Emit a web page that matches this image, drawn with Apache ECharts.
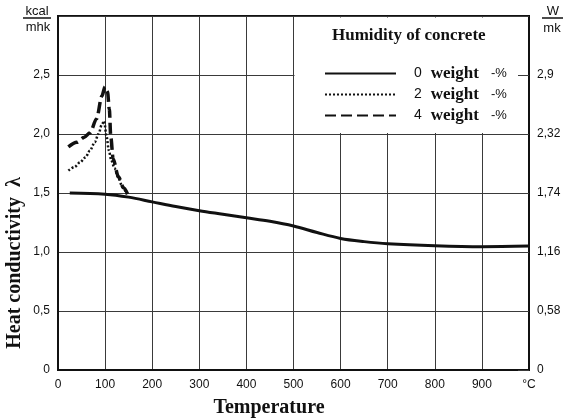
<!DOCTYPE html>
<html>
<head>
<meta charset="utf-8">
<script src="https://cdn.jsdelivr.net/npm/echarts@6/dist/echarts.min.js"></script>
<style>
  html, body { margin: 0; padding: 0; background: #fff; }
  #chart { width: 568px; height: 420px; }
</style>
</head>
<body>
<div id="chart"></div>
<script>
// Heat conductivity of concrete vs. temperature for three moisture contents

// Temperature tick labels (0 … 900, last tick shows the unit)
const xTickLabels = ['0', '100', '200', '300', '400', '500', '600', '700', '800', '900', '°C'];
// Left axis in kcal/mhk, right axis in W/mK (same tick positions)
const leftTickLabels = ['0', '0,5', '1,0', '1,5', '2,0', '2,5', ''];
const rightTickLabels = ['0', '0,58', '1,16', '1,74', '2,32', '2,9', ''];

// Legend labels (weight-% of moisture)
const humidityNames = ['0', '2', '4'];

// 0 weight-%
const temp0 = [25, 100, 150, 200, 250, 300, 350, 400, 450, 500, 550, 600, 650, 700, 800, 900, 1000];
const lambda0 = [1.50, 1.49, 1.465, 1.425, 1.385, 1.35, 1.32, 1.29, 1.26, 1.22, 1.165, 1.115, 1.088, 1.07, 1.053, 1.045, 1.05];

// 2 weight-%
const temp2 = [22, 35, 47, 58, 68, 78, 86, 93, 98, 103, 108, 113, 120, 128, 137, 146];
const lambda2 = [1.69, 1.72, 1.76, 1.80, 1.86, 1.93, 2.00, 2.08, 2.11, 1.98, 1.86, 1.78, 1.71, 1.63, 1.55, 1.49];

// 4 weight-%
const temp4 = [22, 40, 55, 68, 82, 93, 100, 105, 109, 112, 117, 128, 139, 148];
const lambda4 = [1.89, 1.93, 1.97, 2.01, 2.13, 2.32, 2.40, 2.36, 2.21, 1.98, 1.79, 1.64, 1.545, 1.49];

const zip = (xs, ys) => xs.map((x, i) => [x, ys[i]]);

const INK = '#111';
const GRID_INK = '#3a3a3a';
const SANS = 'Liberation Sans';
const SERIF = 'Liberation Serif';

const chart = echarts.init(document.getElementById('chart'), null, { renderer: 'canvas' });

const option = {
  backgroundColor: '#fff',
  animation: false,
  title: {
    text: 'Humidity of concrete',
    left: 332,
    top: 27,
    padding: 0,
    textStyle: { fontFamily: SERIF, fontWeight: 'bold', fontSize: 17, color: INK }
  },
  legend: {
    data: humidityNames,
    orient: 'vertical',
    left: 319,
    top: 60,
    itemWidth: 71,
    itemHeight: 14,
    itemGap: 4,
    selectedMode: false,
    itemStyle: { opacity: 0 },
    formatter: name => `{n|${name}}{w|weight}{p|-%}`,
    textStyle: {
      color: INK,
      rich: {
        n: { fontFamily: SANS, fontSize: 14, color: INK, padding: [0, 0, 0, 13], lineHeight: 20 },
        w: { fontFamily: SERIF, fontWeight: 'bold', fontSize: 17, color: INK, padding: [0, 0, 0, 9], lineHeight: 20 },
        p: { fontFamily: SANS, fontSize: 13, color: INK, padding: [0, 0, 0, 12], lineHeight: 20 }
      }
    }
  },
  grid: {
    left: 58, right: 39, top: 16, bottom: 50,
    show: true, borderColor: INK, borderWidth: 2, backgroundColor: '#fff'
  },
  xAxis: {
    type: 'value',
    min: 0, max: 1000, interval: 100,
    axisLine: { lineStyle: { color: INK, width: 2 } },
    axisTick: { show: false },
    axisLabel: {
      margin: 9, color: INK, fontFamily: SANS, fontSize: 12,
      formatter: v => xTickLabels[Math.round(v / 100)]
    },
    splitLine: { show: true, lineStyle: { color: GRID_INK, width: 1 } }
  },
  yAxis: [
    {
      type: 'value', position: 'left',
      min: 0, max: 3, interval: 0.5,
      axisLine: { show: true, lineStyle: { color: INK, width: 2 } },
      axisTick: { show: false },
      axisLabel: {
        margin: 8, color: INK, fontFamily: SANS, fontSize: 12,
        formatter: v => leftTickLabels[Math.round(v * 2)]
      },
      splitLine: { show: true, lineStyle: { color: GRID_INK, width: 1 } }
    },
    {
      type: 'value', position: 'right',
      min: 0, max: 3, interval: 0.5,
      axisLine: { show: true, lineStyle: { color: INK, width: 2 } },
      axisTick: { show: true, inside: true, length: 11, lineStyle: { color: GRID_INK, width: 1 } },
      axisLabel: {
        margin: 8, color: INK, fontFamily: SANS, fontSize: 12,
        formatter: v => rightTickLabels[Math.round(v * 2)]
      },
      splitLine: { show: false }
    }
  ],
  series: [
    {
      name: humidityNames[0], type: 'line', yAxisIndex: 0,
      data: zip(temp0, lambda0),
      symbol: 'none', smooth: 0.35,
      lineStyle: { color: INK, width: 3, type: 'solid' },
      itemStyle: { color: INK }, z: 3
    },
    {
      name: humidityNames[1], type: 'line', yAxisIndex: 0,
      data: zip(temp2, lambda2),
      symbol: 'none', smooth: 0.3, smoothMonotone: 'x',
      lineStyle: { color: INK, width: 2.5, type: [2, 2] },
      itemStyle: { color: INK }, z: 3
    },
    {
      name: humidityNames[2], type: 'line', yAxisIndex: 0,
      data: zip(temp4, lambda4),
      symbol: 'none', smooth: 0.3, smoothMonotone: 'x',
      lineStyle: { color: INK, width: 3.5, type: [11, 5] },
      itemStyle: { color: INK }, z: 3
    }
  ]
};

chart.setOption(option);

// Legend panel: white box over the upper right grid cells, bounded by the
// 500 °C and λ = 2,0 grid lines, plus axis titles and unit fractions.
const topLeft = chart.convertToPixel({ xAxisIndex: 0, yAxisIndex: 0 }, [500, 3]);
const bottomRight = chart.convertToPixel({ xAxisIndex: 0, yAxisIndex: 0 }, [1000, 2]);

chart.setOption({
  graphic: [
    {
      type: 'rect', z: 1, silent: true,
      shape: {
        x: topLeft[0] + 1,
        y: topLeft[1] + 1.5,
        width: bottomRight[0] - topLeft[0] - 12,
        height: bottomRight[1] - topLeft[1] - 2.5
      },
      style: { fill: '#fff' }
    },
    {
      type: 'text', x: 269, y: 408, silent: true,
      style: {
        text: 'Temperature', fill: INK,
        font: `bold 20px "${SERIF}"`, align: 'center', verticalAlign: 'middle'
      }
    },
    {
      type: 'text', x: 15, y: 263, rotation: Math.PI / 2, silent: true,
      style: {
        text: 'Heat conductivity  λ', fill: INK,
        font: `bold 20px "${SERIF}"`, align: 'center', verticalAlign: 'middle'
      }
    },
    // kcal / mhk
    {
      type: 'text', x: 37, y: 11, silent: true,
      style: { text: 'kcal', fill: INK, font: `13px "${SANS}"`, align: 'center', verticalAlign: 'middle' }
    },
    {
      type: 'line', silent: true,
      shape: { x1: 23, y1: 18, x2: 51, y2: 18 },
      style: { stroke: INK, lineWidth: 1.5 }
    },
    {
      type: 'text', x: 38, y: 27, silent: true,
      style: { text: 'mhk', fill: INK, font: `13px "${SANS}"`, align: 'center', verticalAlign: 'middle' }
    },
    // W / mk
    {
      type: 'text', x: 553, y: 11, silent: true,
      style: { text: 'W', fill: INK, font: `13px "${SANS}"`, align: 'center', verticalAlign: 'middle' }
    },
    {
      type: 'line', silent: true,
      shape: { x1: 542, y1: 18, x2: 563, y2: 18 },
      style: { stroke: INK, lineWidth: 1.5 }
    },
    {
      type: 'text', x: 552, y: 28, silent: true,
      style: { text: 'mk', fill: INK, font: `13px "${SANS}"`, align: 'center', verticalAlign: 'middle' }
    }
  ]
});
</script>
</body>
</html>
